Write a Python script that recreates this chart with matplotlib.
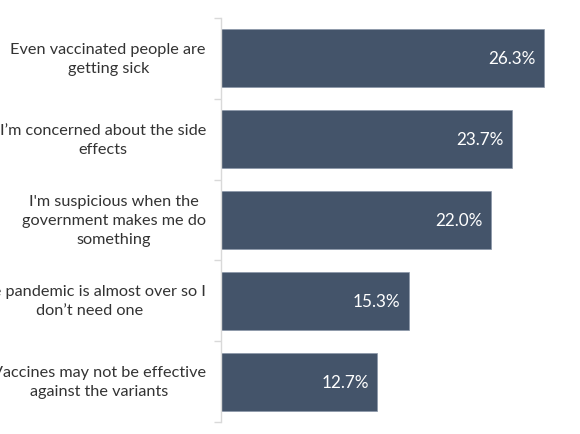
import matplotlib.pyplot as plt
import matplotlib.transforms as mtransforms

plt.rcParams['font.family'] = ['Lato', 'DejaVu Sans']

# Reasons for not getting vaccinated (share of respondents, %)
reasons = [
    "Even vaccinated people are\ngetting sick",
    "I\u2019m concerned about the side\neffects",
    "I'm suspicious when the\ngovernment makes me do\nsomething",
    "The pandemic is almost over so I\ndon\u2019t need one",
    "Vaccines may not be effective\nagainst the variants",
]
shares = [26.3, 23.7, 22.0, 15.3, 12.7]
value_labels = ["26.3%", "23.7%", "22.0%", "15.3%", "12.7%"]

bar_color = '#44546A'
text_color = '#333333'
axis_color = '#d9d9d9'

fig = plt.figure(figsize=(5.8, 4.35), dpi=100)
ax = fig.add_axes([221 / 580, 12 / 435, (570 - 221) / 580, (423 - 19) / 435])

ypos = list(range(len(reasons)))
ax.barh(ypos, shares, height=0.72, color=bar_color, edgecolor='#8a96a8', linewidth=0.5)

ax.set_xlim(0, 28.4)
ax.set_ylim(len(reasons) - 0.5, -0.5)

# value labels inside the bar ends
for y, v, lab in zip(ypos, shares, value_labels):
    ax.annotate(lab, xy=(v, y), xytext=(-6, 0), textcoords='offset points',
                ha='right', va='center', color='white', fontsize=12.3)

# category labels: right-anchored blocks with centred lines (long ones run off the left edge like the source)
trans = mtransforms.blended_transform_factory(fig.transFigure, ax.transData)
for y, txt in zip(ypos, reasons):
    ax.text(206 / 580, y, txt, transform=trans, ha='right', va='center',
            multialignment='center', color=text_color, fontsize=11.7,
            linespacing=1.45, clip_on=False)

# axis styling: only a light left spine with ticks at category boundaries
for side in ['top', 'right', 'bottom']:
    ax.spines[side].set_visible(False)
ax.spines['left'].set_color(axis_color)
ax.spines['left'].set_linewidth(1.0)
ax.set_xticks([])
ax.set_yticks([i - 0.5 for i in range(len(reasons) + 1)])
ax.set_yticklabels([])
ax.tick_params(axis='y', length=5, color=axis_color, width=1.0)

fig.savefig('out.png', dpi=100)
